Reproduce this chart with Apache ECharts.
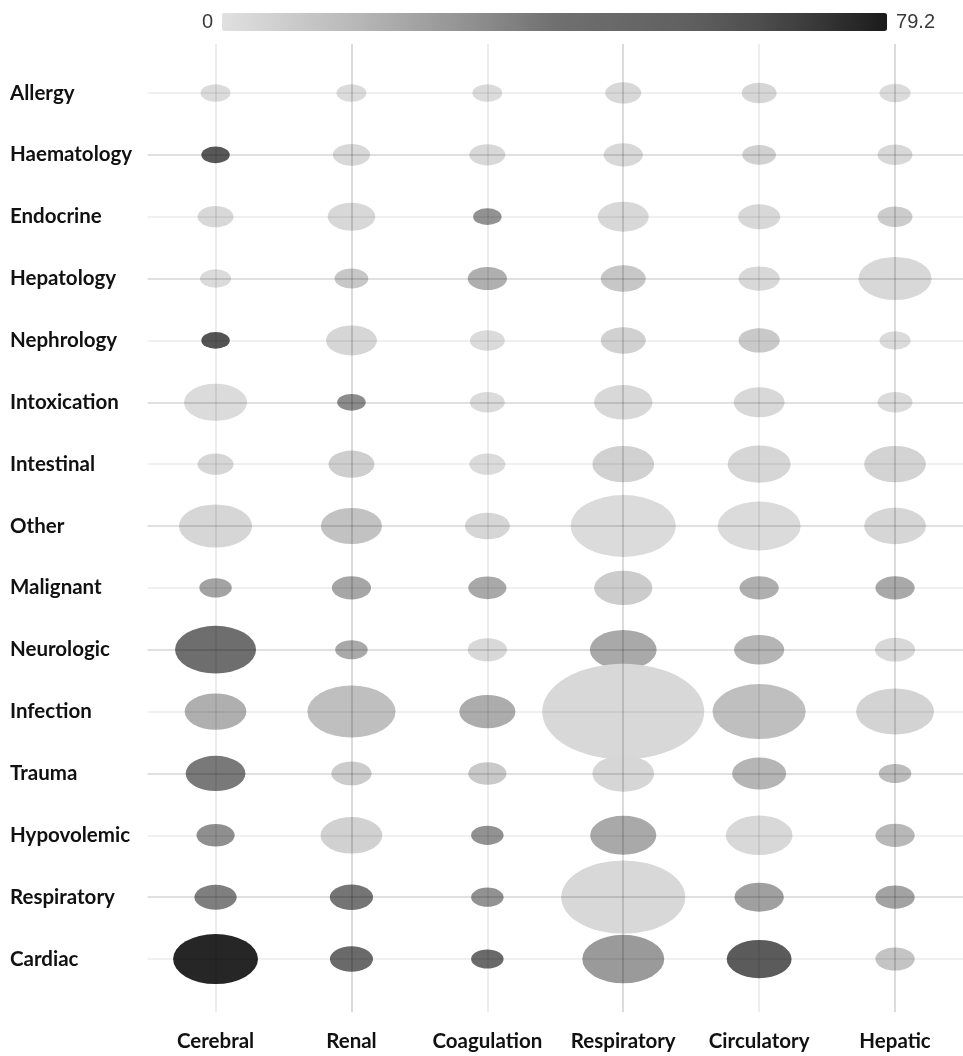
<!DOCTYPE html>
<html>
<head>
<meta charset="utf-8">
<script src="https://cdn.jsdelivr.net/npm/echarts@6/dist/echarts.min.js"></script>
<style>
html,body{margin:0;padding:0;background:#fff;}
#c{width:963px;height:1056px;}
</style>
</head>
<body>
<div id="c"></div>
<script>
// Organ dysfunction categories (x axis)
const organs = ['Cerebral', 'Renal', 'Coagulation', 'Respiratory', 'Circulatory', 'Hepatic'];
// Admission diagnosis categories (y axis, top to bottom)
const diagnoses = ['Allergy', 'Haematology', 'Endocrine', 'Hepatology', 'Nephrology', 'Intoxication',
  'Intestinal', 'Other', 'Malignant', 'Neurologic', 'Infection', 'Trauma', 'Hypovolemic', 'Respiratory', 'Cardiac'];

// Colour value (0 - 79.2) per diagnosis row, per organ column
const colourValues = [
  [2, 2, 2, 3, 4, 2],          // Allergy
  [59, 3, 3, 3, 6, 3],         // Haematology
  [3, 3, 29, 3, 3, 8],         // Endocrine
  [2, 10, 19, 10, 3, 3],       // Hepatology
  [61, 4, 2, 6, 9, 2],         // Nephrology
  [2, 31, 2, 3, 3, 2],         // Intoxication
  [4, 7, 2, 6, 4, 5],          // Intestinal
  [4, 12, 4, 2, 2, 4],         // Other
  [23, 22, 21, 8, 19, 21],     // Malignant
  [42, 21, 3, 21, 17, 3],      // Neurologic
  [19, 13, 20, 3, 13, 5],      // Infection
  [37, 8, 9, 4, 17, 14],       // Trauma
  [30, 6, 29, 21, 3, 16],      // Hypovolemic
  [35, 38, 29, 3, 24, 23],     // Respiratory
  [76, 46, 46, 26, 58, 11]     // Cardiac
];

// Bubble size value per diagnosis row, per organ column
const sizeValues = [
  [11, 11, 11, 16, 15, 12],
  [10, 17, 16, 19, 14, 15],
  [16, 28, 10, 32, 22, 15],
  [12, 14, 19, 25, 21, 66],
  [10, 32, 15, 25, 21, 12],
  [49, 10, 15, 42, 32, 15],
  [16, 26, 16, 47, 49, 47],
  [66, 46, 25, 136, 85, 47],
  [13, 19, 18, 42, 19, 19],
  [81, 13, 19, 55, 31, 20],
  [47, 96, 39, 324, 107, 75],
  [44, 20, 18, 47, 36, 13],
  [18, 47, 13, 54, 55, 19],
  [22, 23, 13, 190, 30, 19],
  [89, 23, 13, 83, 52, 19]
];

const colourMin = 0;
const colourMax = 79.2;
const colourTicks = ['79.2', '0'];

const data = [];
diagnoses.forEach((d, yi) => {
  organs.forEach((o, xi) => {
    data.push([xi, yi, colourValues[yi][xi], sizeValues[yi][xi]]);
  });
});

const hLineDark = 'rgba(0,0,0,0.12)';
const hLineLight = 'rgba(0,0,0,0.06)';
const vLineDark = 'rgba(0,0,0,0.14)';
const vLineLight = 'rgba(0,0,0,0.07)';

const gridLines = [];
diagnoses.forEach((d, yi) => {
  const ls = { color: yi % 2 ? hLineDark : hLineLight, width: 2, type: 'solid' };
  gridLines.push({ yAxis: yi, lineStyle: ls });
});
organs.forEach((o, xi) => {
  const ls = { color: xi % 2 ? vLineDark : vLineLight, width: 2, type: 'solid' };
  gridLines.push([{ coord: [xi, -0.79], lineStyle: ls }, { coord: [xi, 14.86], lineStyle: ls }]);
});

const labelFont = 'Lato, "Open Sans", "Noto Sans", sans-serif';

const chart = echarts.init(document.getElementById('c'));
chart.setOption({
  animation: false,
  backgroundColor: '#ffffff',
  grid: { left: 147.6, width: 817.2, top: 31.1, height: 989.8, containLabel: false },
  xAxis: {
    type: 'category',
    data: organs,
    boundaryGap: true,
    axisLine: { show: false },
    axisTick: { show: false },
    splitLine: { show: false },
    axisLabel: { interval: 0, margin: 10, fontFamily: labelFont, fontWeight: 'bold', fontSize: 20.5, color: '#111111' }
  },
  yAxis: {
    type: 'value',
    min: -1,
    max: 15,
    interval: 1,
    inverse: true,
    axisLine: { show: false },
    axisTick: { show: false },
    splitLine: { show: false },
    axisLabel: {
      margin: 137.6,
      align: 'left',
      fontFamily: labelFont, fontWeight: 'bold', fontSize: 20.5, color: '#111111',
      formatter: v => (v >= 0 && v < diagnoses.length) ? diagnoses[v] : ''
    }
  },
  visualMap: {
    type: 'continuous',
    min: colourMin,
    max: colourMax,
    dimension: 2,
    seriesIndex: 0,
    orient: 'horizontal',
    left: 187,
    top: -3,
    itemWidth: 18,
    itemHeight: 665,
    calculable: false,
    text: colourTicks,
    textGap: 9,
    textStyle: { fontSize: 20, color: '#3a3a3a', fontFamily: '"Liberation Sans", Arial, sans-serif' },
    inRange: {
      color: ['#e0e0e0', '#cccccc', '#b8b8b8', '#a1a1a1', '#8a8a8a', '#707070', '#686868', '#606060', '#4f4f4f', '#373737', '#1a1a1a']
    }
  },
  series: [{
    type: 'scatter',
    data: data,
    symbol: 'circle',
    symbolSize: val => {
      const w = 9 * Math.sqrt(val[3]);
      return [w, w * 0.59];
    },
    itemStyle: { opacity: 1 },
    markLine: {
      silent: true,
      symbol: 'none',
      label: { show: false },
      animation: false,
      data: gridLines
    }
  }]
});
</script>
</body>
</html>
